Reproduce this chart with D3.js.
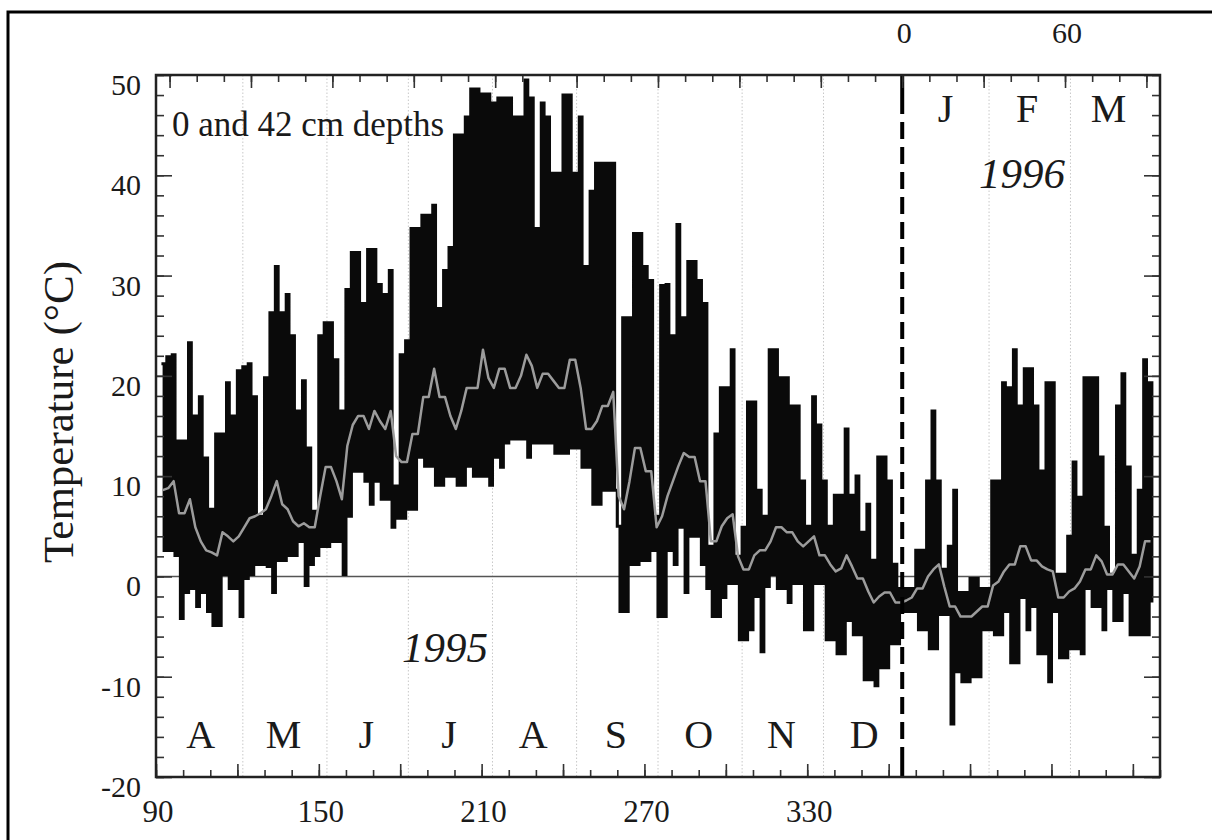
<!DOCTYPE html>
<html><head><meta charset="utf-8">
<script src="https://cdn.jsdelivr.net/npm/d3@7/dist/d3.min.js"></script>
<style>body{margin:0;background:#fff}</style>
</head><body>
<svg id="chart" width="1212" height="840"></svg>
<script>
// Day of year (1995 counting; 1996 days = value - 365), one entry every 2 days
const startDay = 92, stepDays = 2;
// 0 cm (surface): daily maximum and minimum (°C)
const surfaceMax = [21.2,21.9,22.1,13.5,13.5,23.3,16.0,17.9,11.8,6.7,14.2,14.2,19.3,16.0,20.5,20.9,21.2,17.9,6.0,19.8,
26.3,30.9,26.3,28.1,24.0,16.5,19.5,12.8,6.5,24.0,25.3,25.3,21.6,16.5,28.6,32.3,32.3,27.2,32.6,32.6,
29.1,28.1,30.5,9.0,22.1,23.5,34.7,34.7,36.0,36.0,37.0,26.7,30.5,32.8,44.0,44.0,45.8,48.6,48.6,48.1,
48.1,47.2,47.7,47.7,47.7,45.8,45.8,49.5,47.7,34.7,47.2,45.8,40.2,40.2,48.0,48.0,40.2,45.8,30.9,38.4,
41.2,41.2,41.2,41.2,5.0,25.8,25.8,34.2,34.2,30.9,29.5,6.0,29.0,29.1,24.0,35.1,25.8,31.4,31.4,29.5,
27.2,3.0,14.2,18.8,18.8,22.6,2.0,4.9,17.4,17.4,8.6,6.0,22.6,22.6,19.8,19.8,17.0,17.0,9.5,5.0,
17.9,15.1,9.5,5.0,8.1,8.1,14.7,8.1,10.0,4.4,7.2,1.6,11.9,11.9,9.5,1.2,-1.2,-1.2,-1.2,2.6,
2.6,9.5,16.5,9.5,0.7,3.0,8.6,-1.6,-1.6,-0.2,-0.2,-1.2,-1.2,9.5,9.5,19.3,18.8,22.6,17.0,20.7,
20.7,17.0,10.5,19.3,19.3,0.2,0.2,4.0,11.4,7.9,19.8,19.8,19.8,11.9,4.9,0.2,17.0,20.2,10.9,2.1,
8.6,21.6,19.3];
const surfaceMin = [2.6,2.6,2.1,-4.2,-1.6,-1.2,-3.0,-1.6,-3.5,-4.9,-4.9,0.2,-1.2,-1.2,-4.0,-0.2,0.2,1.2,1.2,1.0,
-1.6,1.6,1.6,2.1,2.1,3.5,-0.9,1.2,2.1,3.0,3.0,3.5,3.5,0.2,6.0,10.5,10.5,9.5,7.2,9.5,
7.7,7.7,4.9,5.8,5.8,6.7,6.7,11.9,11.0,11.0,9.1,9.1,10.0,10.0,9.1,9.1,11.0,10.0,10.0,10.0,
9.1,11.9,10.9,13.3,13.7,13.7,13.7,11.9,13.3,13.3,13.3,13.3,12.3,12.3,12.3,12.8,12.8,10.9,10.9,7.2,
7.2,8.6,8.6,8.6,-3.5,-3.5,1.2,1.2,1.6,1.6,2.6,-4.0,-4.0,2.6,1.2,4.9,-1.6,4.0,4.0,1.2,
-1.2,-4.0,-4.0,-2.1,-0.7,-0.7,-6.3,-6.3,-5.3,-2.0,-7.5,-1.0,0.2,-1.2,-1.2,-2.6,-0.7,-0.7,-5.3,-5.3,
-0.7,-0.7,-6.3,-6.3,-7.7,-7.7,-4.4,-5.8,-5.8,-10.3,-10.3,-10.9,-9.1,-9.1,-6.7,-6.7,-3.5,-3.5,-3.5,-5.3,
-5.3,-7.2,-7.2,-3.8,-3.8,-14.7,-9.5,-10.5,-10.5,-10.0,-10.0,-5.3,-5.3,-5.8,-5.8,-3.5,-8.6,-8.6,-2.1,-5.3,
-3.0,-7.7,-7.7,-10.5,-3.5,-8.1,-8.1,-7.2,-7.2,-7.7,-1.2,-3.0,-3.0,-5.3,-1.2,-4.4,-4.4,-1.6,-5.8,-5.8,
-5.8,-5.8,-2.6];
// 42 cm depth (°C)
const depth42 = [8.6,8.8,9.5,6.3,6.3,7.7,4.9,3.5,2.6,2.4,2.1,4.4,4.0,3.5,4.0,4.9,5.8,6.0,6.3,6.7,
8.0,9.5,7.2,6.7,5.5,5.0,5.3,4.9,4.9,8.0,10.9,10.9,9.5,7.7,13.0,15.1,16.0,16.0,14.7,16.5,
15.5,14.7,16.5,12.0,11.4,11.4,14.2,14.2,17.9,17.9,20.7,17.9,17.9,16.0,14.7,16.5,18.8,18.8,18.8,22.6,
19.8,18.8,20.7,20.7,18.8,18.8,20.0,22.1,21.0,18.8,20.2,20.2,19.5,18.8,18.8,21.6,21.6,18.8,14.7,14.7,
15.5,17.0,17.0,18.4,8.0,6.7,9.5,12.8,12.8,10.5,10.5,4.9,6.0,8.0,9.5,11.0,12.3,11.9,11.9,9.5,
9.5,3.5,3.5,5.0,5.8,6.2,2.0,0.7,0.7,2.1,2.6,2.6,3.5,4.9,4.9,4.4,4.4,3.5,3.0,3.5,
4.0,2.1,2.1,1.2,0.5,0.8,2.1,1.0,-0.2,-0.2,-1.5,-2.6,-2.0,-1.6,-1.6,-2.6,-2.6,-2.4,-2.1,-1.2,
-1.2,0.0,0.7,1.2,-1.0,-3.0,-3.0,-4.0,-4.0,-4.0,-3.5,-3.0,-3.0,-0.9,-0.5,0.5,1.2,1.2,3.0,3.0,
1.6,1.6,1.0,0.7,0.5,-2.1,-2.1,-1.5,-1.2,-0.5,0.7,0.7,2.1,1.5,0.2,0.2,1.2,1.2,0.5,-0.2,
1.0,3.5,3.5];

const yTickLabels = [50,40,30,20,10,0,-10,-20];
const bottomTickLabels = [90,150,210,270,330];
const topTickLabels = [0,60];           // days of 1996
const yearBoundary = 365;               // 1 Jan 1996
const months1995 = ["A","M","J","J","A","S","O","N","D"];
const months1995Day = [106.5,137,167.5,198,229,259.5,290,320.5,351];
const months1996 = ["J","F","M"];
const months1996Day = [381,411,441];
const monthStartLines = [122,153,183,214,245,275,306,336,397,427];

const svg = d3.select("#chart");
const FONT = "'Liberation Serif','Times New Roman',serif";
const L = 156, R = 1160, T = 75, B = 777;
const x = d3.scaleLinear().domain([90, 460]).range([L, R]);
const y = d3.scaleLinear().domain([-20, 50]).range([B, T]);

// outer figure frame
svg.append("rect").attr("x", 8).attr("y", 12).attr("width", 1230).attr("height", 850)
  .attr("fill", "none").attr("stroke", "#000").attr("stroke-width", 3);

// month grid lines
svg.append("g").selectAll("line").data(monthStartLines).join("line")
  .attr("x1", d => x(d)).attr("x2", d => x(d)).attr("y1", T).attr("y2", B)
  .attr("stroke", "#c8c8c8").attr("stroke-width", 1).attr("stroke-dasharray", "1.5,2");

// zero line
svg.append("line").attr("x1", L).attr("x2", R).attr("y1", y(0)).attr("y2", y(0))
  .attr("stroke", "#555").attr("stroke-width", 1.4);

// surface (0 cm) series: daily max then min
const pts = [];
surfaceMax.forEach((mx, i) => {
  const d = startDay + i * stepDays;
  pts.push([d, mx]);
  pts.push([d + 1, surfaceMin[i]]);
});
svg.append("path").datum(pts)
  .attr("d", d3.line().x(d => x(d[0])).y(d => y(d[1])).curve(d3.curveStepAfter))
  .attr("fill", "none").attr("stroke", "#0a0a0a").attr("stroke-width", 3.1)
  .attr("stroke-linejoin", "miter");

// 42 cm series
svg.append("path").datum(depth42.map((v, i) => [startDay + i * stepDays + 0.5, v]))
  .attr("d", d3.line().x(d => x(d[0])).y(d => y(d[1])))
  .attr("fill", "none").attr("stroke", "#9c9c9c").attr("stroke-width", 2.5)
  .attr("stroke-linejoin", "round");

// year boundary dashed line
const xb = x(yearBoundary);
svg.append("line").attr("x1", xb).attr("x2", xb).attr("y1", T + 22).attr("y2", B - 22)
  .attr("stroke", "#000").attr("stroke-width", 4).attr("stroke-dasharray", "17,8");
svg.append("line").attr("x1", xb).attr("x2", xb).attr("y1", T).attr("y2", T + 22)
  .attr("stroke", "#000").attr("stroke-width", 4);
svg.append("line").attr("x1", xb).attr("x2", xb).attr("y1", B - 22).attr("y2", B)
  .attr("stroke", "#000").attr("stroke-width", 4);

// ticks (inward)
function ticks(axisGen, transform, vals, size) {
  const g = svg.append("g").attr("transform", transform)
    .call(axisGen.tickValues(vals).tickSize(size).tickFormat(""));
  g.select(".domain").remove();
  g.selectAll("line").attr("stroke", "#333").attr("stroke-width", 1.6);
}
const bottomMinor = d3.range(90, 461, 10), bottomMajor = d3.range(90, 461, 30);
const topMinor = d3.range(365 - 270, 461, 10), topMajor = d3.range(365 - 270, 461, 30);
const yMinor = d3.range(-20, 51, 2), yMajor = d3.range(-20, 51, 10);
ticks(d3.axisBottom(x), `translate(0,${B})`, bottomMinor, -7);
ticks(d3.axisBottom(x), `translate(0,${B})`, bottomMajor, -13);
ticks(d3.axisTop(x), `translate(0,${T})`, topMinor, -7);
ticks(d3.axisTop(x), `translate(0,${T})`, topMajor, -13);
ticks(d3.axisLeft(y), `translate(${L},0)`, yMinor, -8);
ticks(d3.axisLeft(y), `translate(${L},0)`, yMajor, -16);
ticks(d3.axisRight(y), `translate(${R},0)`, yMinor, -8);
ticks(d3.axisRight(y), `translate(${R},0)`, yMajor, -16);

// plot frame
svg.append("rect").attr("x", L).attr("y", T).attr("width", R - L).attr("height", B - T)
  .attr("fill", "none").attr("stroke", "#222").attr("stroke-width", 2.5);

// labels
const txt = (s, xx, yy, size, anchor, extra) => {
  const t = svg.append("text").attr("x", xx).attr("y", yy).text(s)
    .attr("font-family", FONT).attr("font-size", size).attr("text-anchor", anchor || "start")
    .attr("fill", "#1a1a1a");
  if (extra) extra(t);
  return t;
};
yTickLabels.forEach(v => txt(String(v), 141, y(v) + 20, 30, "end"));
bottomTickLabels.forEach(v => txt(String(v), x(v) + 2, 822, 31, "middle"));
topTickLabels.forEach(v => txt(String(v), x(v + yearBoundary) + 2, 43, 30, "middle"));

months1995.forEach((m, i) => txt(m, x(months1995Day[i]), 748, 40, "middle"));
months1996.forEach((m, i) => txt(m, x(months1996Day[i]), 122, 40, "middle"));

txt("0 and 42 cm depths", 172, 136, 35, "start");
txt("1995", 402, 662, 43, "start", t => t.attr("font-style", "italic"));
txt("1996", 979, 188, 43, "start", t => t.attr("font-style", "italic"));

svg.append("text").attr("transform", "translate(73,412) rotate(-90)")
  .attr("text-anchor", "middle").attr("font-family", FONT).attr("font-size", 43)
  .attr("fill", "#1a1a1a").text("Temperature (°C)");
</script>
</body></html>
